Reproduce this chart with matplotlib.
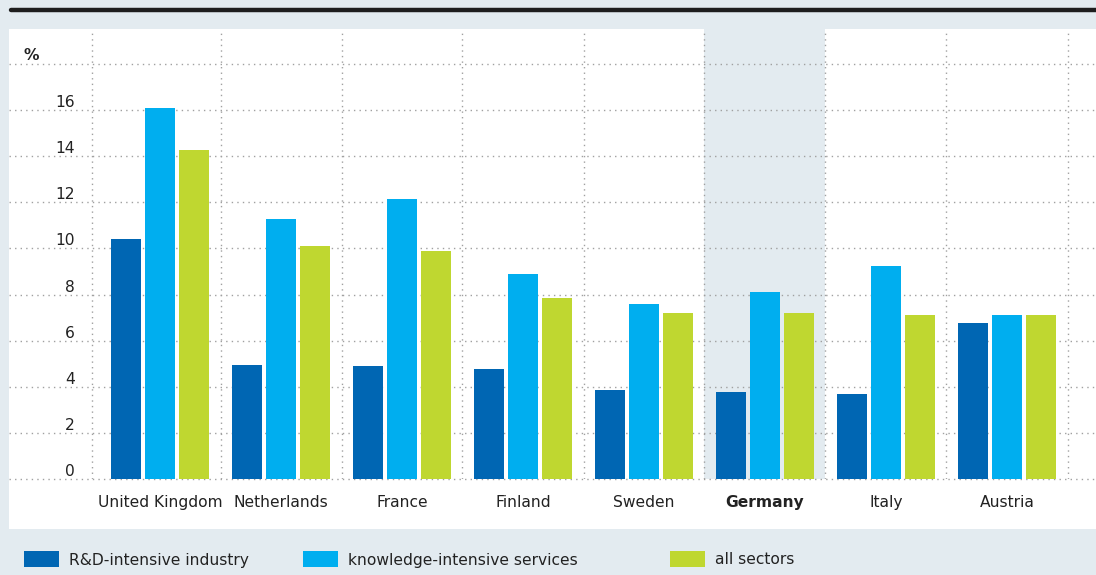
import matplotlib
matplotlib.use("Agg")
import matplotlib.pyplot as plt
from matplotlib.patches import Rectangle
from matplotlib.lines import Line2D
import numpy as np

countries = ["United Kingdom", "Netherlands", "France", "Finland", "Sweden", "Germany", "Italy", "Austria"]
rd_industry = [10.4, 4.95, 4.91, 4.78, 3.87, 3.78, 3.69, 6.77]
knowledge_services = [16.07, 11.27, 12.13, 8.89, 7.59, 8.11, 9.23, 7.11]
all_sectors = [14.26, 10.10, 9.88, 7.85, 7.2, 7.2, 7.11, 7.11]
series_names = ["R&D-intensive industry", "knowledge-intensive services", "all sectors"]
yticks = [0, 2, 4, 6, 8, 10, 12, 14, 16]
highlight = "Germany"

colors = ["#0066b3", "#00aeef", "#bfd730"]
bg = "#e3ebf0"
txt = "#222222"
grid_c = "#a0a0a0"

W, H = 1096, 575
fig = plt.figure(figsize=(W / 100, H / 100), dpi=100, facecolor=bg)

def fx(px):
    return px / W

def fy(py):
    return 1 - py / H

# white panel
fig.patches.append(Rectangle((fx(9), fy(529)), fx(1096) - fx(9), fy(29) - fy(529),
                             transform=fig.transFigure, facecolor="white", edgecolor="none", zorder=-5))
# top black rule
fig.lines.append(Line2D([fx(11), fx(1100)], [fy(9.5), fy(9.5)], transform=fig.transFigure,
                        color="#1e1e1e", lw=3.2, solid_capstyle="round"))

y0_px = 479.3
ppu_y = 23.1
ppu_x = 121.0
cx0 = 160.0
ax_left, ax_right, ax_top = 9, 1096, 29
ax = fig.add_axes([fx(ax_left), fy(y0_px), fx(ax_right) - fx(ax_left), fy(ax_top) - fy(y0_px)])
ax.set_zorder(1)
ax.set_facecolor("none")
ax.set_xlim((ax_left - cx0) / ppu_x, (ax_right - cx0) / ppu_x)
ax.set_ylim(0, (y0_px - ax_top) / ppu_y)
for s in ax.spines.values():
    s.set_visible(False)

x = np.arange(len(countries))
hi = countries.index(highlight)
ax.axvspan(hi - 0.5, hi + 0.5, color=bg, zorder=0, lw=0)

dot = (0, (1, 3))
for g in range(0, 20, 2):
    ax.axhline(g, color=grid_c, lw=1, ls=dot, zorder=1, clip_on=False)
for b in list(np.arange(len(countries)) + 0.5):
    ax.axvline(b, color=grid_c, lw=1, ls=dot, zorder=1)
ax.axvline((92 - cx0) / ppu_x, color=grid_c, lw=1, ls=dot, zorder=1)

bw = 30 / ppu_x
step = 34 / ppu_x
for k, (vals, c) in enumerate(zip([rd_industry, knowledge_services, all_sectors], colors)):
    ax.bar(x + (k - 1) * step, vals, width=bw, color=c, zorder=2, lw=0)

ax.set_yticks(yticks)
ax.set_yticklabels([str(t) for t in yticks], fontsize=11.2, color=txt)
ax.tick_params(axis="y", length=0, pad=-(75 - ax_left) * 0.72)
ax.set_xticks(x)
ax.set_xticklabels(countries, fontsize=11.2, color=txt)
ax.tick_params(axis="x", length=0, pad=11.5)
for lab in ax.get_xticklabels():
    if lab.get_text() == highlight:
        lab.set_fontweight("bold")
for lab in ax.get_yticklabels():
    lab.set_verticalalignment("bottom")

fig.text(fx(23), fy(55), "%", fontsize=11.2, fontweight="bold", color=txt, va="center", ha="left")

# legend
leg_x = [24, 303, 670]
for name, c, lx in zip(series_names, colors, leg_x):
    fig.patches.append(Rectangle((fx(lx), fy(567)), fx(35), fy(551) - fy(567), transform=fig.transFigure,
                                 facecolor=c, edgecolor="none"))
    fig.text(fx(lx + 45), fy(560), name, fontsize=11.2, color=txt, va="center", ha="left")

fig.savefig("out.png", dpi=100, facecolor=bg)
